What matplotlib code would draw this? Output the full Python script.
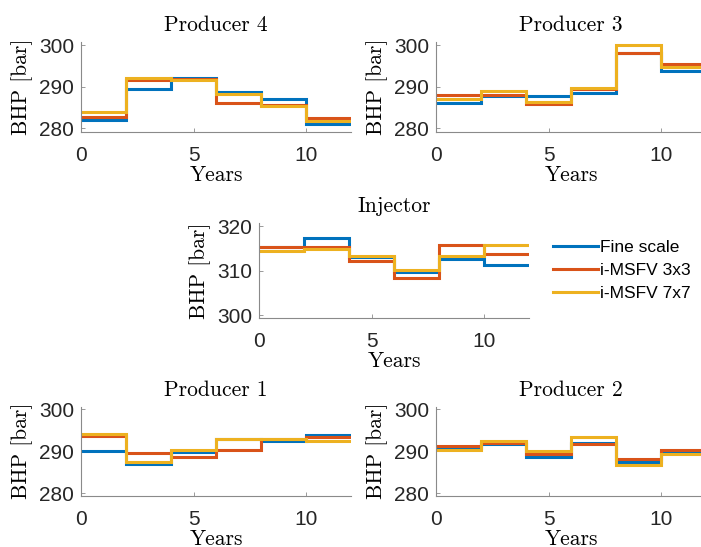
import numpy as np
import matplotlib
matplotlib.use("Agg")
import matplotlib.pyplot as plt

# control periods (years): BHP is constant on each 2-year interval
years = [0, 2, 4, 6, 8, 10, 12]
series_names = ["Fine scale", "i-MSFV 3x3", "i-MSFV 7x7"]
colors = ["#0072BD", "#D95319", "#EDB120"]

# BHP [bar] per interval, order: fine scale, i-MSFV 3x3, i-MSFV 7x7
prod4_fine = [282.0, 289.4, 292.0, 288.7, 287.0, 281.1]
prod4_3x3 = [282.8, 291.7, 291.8, 286.0, 285.6, 282.4]
prod4_7x7 = [283.9, 292.2, 291.6, 288.2, 285.4, 281.8]

prod3_fine = [286.2, 287.8, 287.7, 288.4, 298.0, 293.8]
prod3_3x3 = [288.0, 288.0, 285.8, 289.5, 298.0, 295.4]
prod3_7x7 = [287.1, 289.0, 286.4, 289.6, 300.0, 294.8]

inj_fine = [315.2, 317.4, 313.0, 309.8, 312.7, 311.3]
inj_3x3 = [315.4, 315.4, 312.2, 308.3, 315.7, 313.7]
inj_7x7 = [314.4, 314.8, 313.4, 310.2, 313.4, 315.7]

prod1_fine = [290.0, 287.0, 289.8, 292.8, 292.5, 293.8]
prod1_3x3 = [293.7, 289.6, 288.6, 290.2, 292.8, 293.5]
prod1_7x7 = [294.1, 287.4, 290.4, 292.8, 292.8, 292.5]

prod2_fine = [290.8, 291.6, 288.6, 292.0, 287.4, 289.8]
prod2_3x3 = [291.2, 292.0, 289.4, 291.6, 288.2, 290.2]
prod2_7x7 = [290.4, 292.4, 290.0, 293.4, 286.6, 289.4]

W, H = 701, 547
fig = plt.figure(figsize=(W / 100, H / 100), dpi=100)

serif = "cmr10"
sans = "Liberation Sans"


def panel(left, top, bottom, title, data, ylim, yticks):
    ax = fig.add_axes([left / W, 1 - bottom / H, 270 / W, (bottom - top) / H])
    for vals, c, name in zip(data, colors, series_names):
        ax.step(years, vals + [vals[-1]], where="post", color=c, lw=2.2,
                label=name, solid_joinstyle="miter")
    ax.set_xlim(0, 12)
    ax.set_ylim(*ylim)
    ax.set_xticks([0, 5, 10])
    ax.set_yticks(yticks)
    for s in ["top", "right"]:
        ax.spines[s].set_visible(False)
    for s in ["left", "bottom"]:
        ax.spines[s].set_color("#8a8a8a")
        ax.spines[s].set_linewidth(0.8)
    ax.tick_params(direction="in", length=3, width=0.6, color="#8a8a8a",
                   labelsize=15, labelcolor="#262626")
    ax.tick_params(axis="x", pad=10)
    ax.tick_params(axis="y", pad=5)
    for lab in ax.get_xticklabels() + ax.get_yticklabels():
        lab.set_fontfamily(sans)
    ax.set_title(title, fontfamily=serif, fontsize=15.5, pad=8)
    ax.set_xlabel("Years", fontfamily=serif, fontsize=15.5, labelpad=0.5)
    ax.set_ylabel("BHP [bar]", fontfamily=serif, fontsize=15.5, labelpad=4)
    return ax


panel(81, 41.7, 131.7, "Producer 4", [prod4_fine, prod4_3x3, prod4_7x7],
      (279.2, 300.8), [280, 290, 300])
panel(436, 41.7, 131.7, "Producer 3", [prod3_fine, prod3_3x3, prod3_7x7],
      (279.2, 300.8), [280, 290, 300])
ax_inj = panel(259, 223, 318.3, "Injector", [inj_fine, inj_3x3, inj_7x7],
               (299.3, 320.7), [300, 310, 320])
panel(81, 406.7, 495.7, "Producer 1", [prod1_fine, prod1_3x3, prod1_7x7],
      (279.4, 300.6), [280, 290, 300])
panel(436, 406.7, 495.7, "Producer 2", [prod2_fine, prod2_3x3, prod2_7x7],
      (279.4, 300.6), [280, 290, 300])

handles, labels = ax_inj.get_legend_handles_labels()
fig.legend(handles, labels, loc="upper left",
           bbox_to_anchor=(546 / W, 1 - 233 / H), frameon=False,
           prop={"family": sans, "size": 12.5}, handlelength=2.6,
           handletextpad=0.12, labelspacing=0.45, borderaxespad=0)

fig.savefig("out.png", dpi=100)
